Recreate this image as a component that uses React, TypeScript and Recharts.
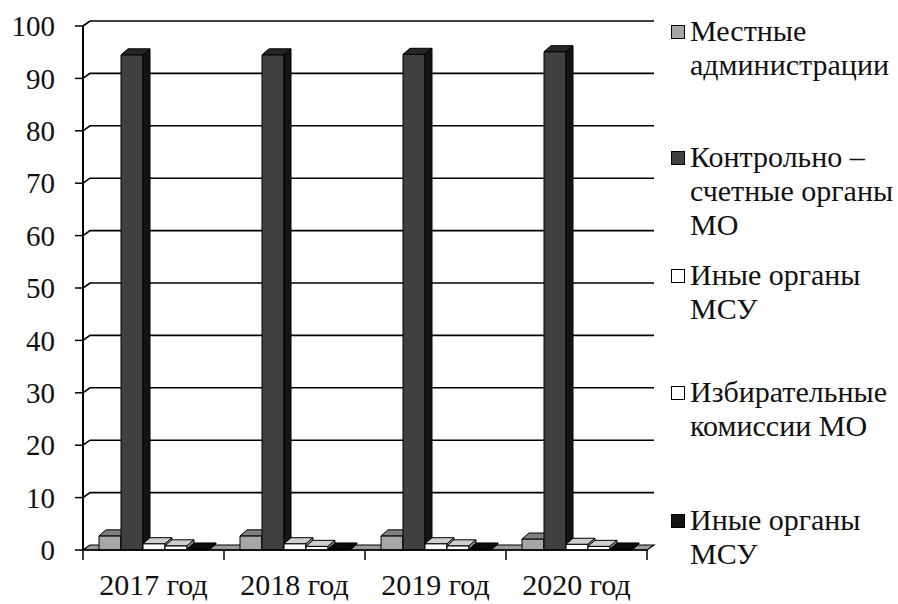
import React from "react";
import { BarChart, Bar, XAxis, YAxis, CartesianGrid } from "recharts";

const CATEGORIES = ["2017 год", "2018 год", "2019 год", "2020 год"];
const LOCAL_ADMIN = [2.7, 2.7, 2.7, 2.1];
const AUDIT_BODIES = [94.5, 94.5, 94.6, 95.1];
const OTHER_BODIES = [1.2, 1.2, 1.2, 1.1];
const ELECTION_COMMISSIONS = [0.8, 0.7, 0.8, 0.7];
const OTHER_BODIES_B = [0.2, 0.2, 0.2, 0.2];
const Y_TICKS = [0, 10, 20, 30, 40, 50, 60, 70, 80, 90, 100];

const SERIES = [
  { key: "local", name: ["Местные", "администрации"], values: LOCAL_ADMIN, front: "#a6a6a6", top: "#7f7f7f", side: "#6a6a6a" },
  { key: "audit", name: ["Контрольно –", "счетные органы", "МО"], values: AUDIT_BODIES, front: "#404040", top: "#262626", side: "#141414" },
  { key: "other", name: ["Иные органы", "МСУ"], values: OTHER_BODIES, front: "#ffffff", top: "#cfcfcf", side: "#9a9a9a" },
  { key: "election", name: ["Избирательные", "комиссии МО"], values: ELECTION_COMMISSIONS, front: "#ffffff", top: "#cfcfcf", side: "#9a9a9a" },
  { key: "otherB", name: ["Иные органы", "МСУ"], values: OTHER_BODIES_B, front: "#141414", top: "#0a0a0a", side: "#000000" },
];

const data = CATEGORIES.map((cat, i) => {
  const row: Record<string, any> = { cat };
  SERIES.forEach((s) => (row[s.key] = s.values[i]));
  return row;
});

const W = 898;
const H = 604;
const LEFT = 83;
const RIGHT_MARGIN = 251;
const TOP = 26;
const X_AXIS_H = 54;
const AXIS_Y = H - X_AXIS_H;
const BAND = (W - LEFT - RIGHT_MARGIN) / CATEGORIES.length;
const FONT = "Liberation Serif, Tinos, DejaVu Serif, serif";

// depth of the walls / floor and of each column
const WALL_DX = 7;
const WALL_DY = 5;
const BAR_DX = 7;
const BAR_DY = 6;

// legend entry offsets from the top
const LEGEND_TOPS = [14, 140, 258, 375, 503];

function box(topFill: string, sideFill: string) {
  return (props: any) => {
    const { x, y, width: w, height: h, fill } = props;
    if (w == null || h == null) return null;
    return (
      <g stroke="#000" strokeWidth={1} strokeLinejoin="round">
        <rect x={x} y={y} width={w} height={h} fill={fill} />
        <polygon
          points={`${x},${y} ${x + BAR_DX},${y - BAR_DY} ${x + w + BAR_DX},${y - BAR_DY} ${x + w},${y}`}
          fill={topFill}
        />
        <polygon
          points={`${x + w},${y} ${x + w + BAR_DX},${y - BAR_DY} ${x + w + BAR_DX},${y + h - BAR_DY} ${x + w},${y + h}`}
          fill={sideFill}
        />
      </g>
    );
  };
}

function GridLine(props: any) {
  const { x1, y1, x2, y, height } = props;
  const bottom = Math.abs(y1 - (y + height)) < 0.5;
  if (bottom) {
    return (
      <polygon
        points={`${x1},${y1} ${x2},${y1} ${x2 + WALL_DX},${y1 - WALL_DY} ${x1 + WALL_DX},${y1 - WALL_DY}`}
        fill="#9d9d9d"
        stroke="#000"
        strokeWidth={1.2}
      />
    );
  }
  return (
    <path
      d={`M${x1},${y1} L${x1 + WALL_DX},${y1 - WALL_DY} L${x2 + WALL_DX},${y1 - WALL_DY}`}
      fill="none"
      stroke="#000"
      strokeWidth={1.6}
    />
  );
}

function CategoryTick(props: any) {
  const { x, index, payload } = props;
  const left = x - BAND / 2;
  return (
    <g>
      <line x1={left} y1={AXIS_Y} x2={left} y2={AXIS_Y + 10} stroke="#000" strokeWidth={1.5} />
      {index === CATEGORIES.length - 1 && (
        <line x1={left + BAND} y1={AXIS_Y} x2={left + BAND} y2={AXIS_Y + 10} stroke="#000" strokeWidth={1.5} />
      )}
      <text x={x} y={AXIS_Y + 45} textAnchor="middle" fontSize={30} fontFamily={FONT} fill="#111">
        {payload.value}
      </text>
    </g>
  );
}

function LegendBlock() {
  return (
    <div style={{ position: "absolute", left: 671, top: 0, width: 227, height: H, fontFamily: FONT, fontSize: 30, color: "#111" }}>
      {SERIES.map((s, i) => (
        <div key={s.key} style={{ position: "absolute", top: LEGEND_TOPS[i], left: 0, display: "flex", alignItems: "flex-start" }}>
          <span
            style={{
              display: "inline-block",
              width: 12,
              height: 12,
              marginTop: 11,
              marginRight: 5,
              background: s.front,
              border: "1.5px solid #000",
              flexShrink: 0,
            }}
          />
          <div style={{ lineHeight: "34px", whiteSpace: "nowrap" }}>
            {s.name.map((line, j) => (
              <div key={j}>{line}</div>
            ))}
          </div>
        </div>
      ))}
    </div>
  );
}

export default function App() {
  return (
    <div style={{ position: "absolute", left: 0, top: 0, width: W, height: H, background: "#fff" }}>
      <BarChart
        width={W}
        height={H}
        data={data}
        margin={{ top: TOP, right: RIGHT_MARGIN, bottom: 0, left: 0 }}
        barGap={0}
        barSize={22}
      >
        <CartesianGrid vertical={false} horizontal={(p: any) => <GridLine {...p} />} />
        <XAxis
          dataKey="cat"
          height={X_AXIS_H}
          axisLine={{ stroke: "#000", strokeWidth: 1.5 }}
          tickLine={false}
          tick={<CategoryTick />}
          interval={0}
        />
        <YAxis
          width={LEFT}
          domain={[0, 100]}
          ticks={Y_TICKS}
          interval={0}
          axisLine={{ stroke: "#000", strokeWidth: 2 }}
          tickLine={{ stroke: "#000", strokeWidth: 1.5 }}
          tickSize={8}
          tickMargin={20}
          tick={{ fill: "#111", fontSize: 29, fontFamily: FONT }}
        />
        {SERIES.map((s) => (
          <Bar
            key={s.key}
            dataKey={s.key}
            name={s.name.join(" ")}
            fill={s.front}
            shape={box(s.top, s.side)}
            isAnimationActive={false}
          />
        ))}
      </BarChart>
      <LegendBlock />
    </div>
  );
}
